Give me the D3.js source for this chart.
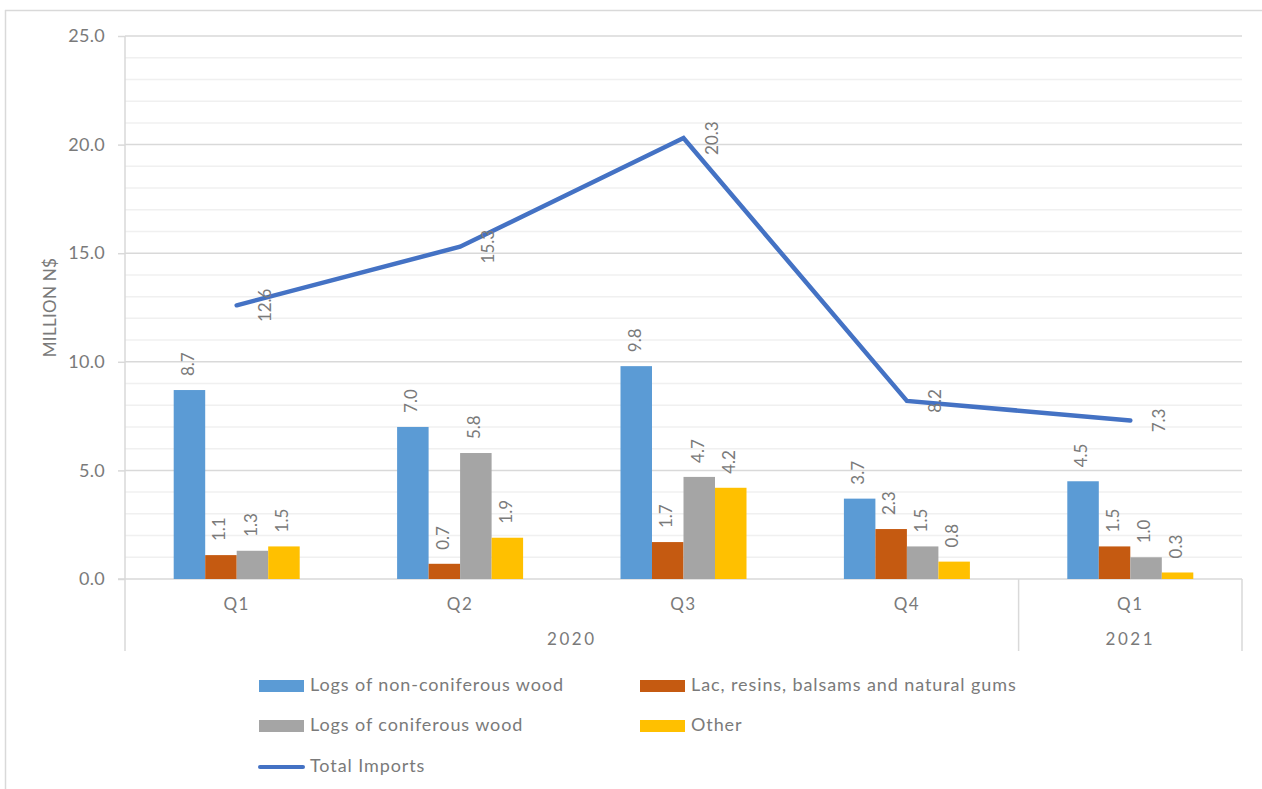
<!DOCTYPE html>
<html>
<head>
<meta charset="utf-8">
<script src="https://cdn.jsdelivr.net/npm/d3@7"></script>
<style>
  html, body { margin: 0; padding: 0; background: #fff; }
  svg { display: block; font-family: Lato, "Open Sans", sans-serif; }
</style>
</head>
<body>
<svg id="chart" width="1262" height="789"></svg>
<script>
// Quarterly imports, million N$
const quarters = ["Q1", "Q2", "Q3", "Q4", "Q1 "];
const years = [
  { label: "2020", from: 0, to: 3 },
  { label: "2021", from: 4, to: 4 }
];
const seriesNames = [
  "Logs of non-coniferous wood",
  "Lac, resins, balsams and natural gums",
  "Logs of coniferous wood",
  "Other"
];
const nonConiferous = [8.7, 7.0, 9.8, 3.7, 4.5];
const lacResins     = [1.1, 0.7, 1.7, 2.3, 1.5];
const coniferous    = [1.3, 5.8, 4.7, 1.5, 1.0];
const other         = [1.5, 1.9, 4.2, 0.8, 0.3];
const totalImports  = [12.6, 15.3, 20.3, 8.2, 7.3];
const totalName = "Total Imports";
const yTicks = [0, 5, 10, 15, 20, 25];
const yTitle = "MILLION N$";

const seriesValues = [nonConiferous, lacResins, coniferous, other];
const colors = ["#5B9BD5", "#C55A11", "#A5A5A5", "#FFC000"];
const lineColor = "#4472C4";
const textColor = "#7a7a7a";

const svg = d3.select("#chart");
const plot = { left: 125, right: 1242, top: 36, bottom: 579, axisBottom: 651 };

// chart frame
svg.append("line").attr("x1", 5.5).attr("x2", 5.5).attr("y1", 10).attr("y2", 789)
  .attr("stroke", "#d9d9d9").attr("stroke-width", 1.5);
svg.append("line").attr("x1", 5).attr("x2", 1262).attr("y1", 10.5).attr("y2", 10.5)
  .attr("stroke", "#d9d9d9").attr("stroke-width", 1.5);

const y = d3.scaleLinear().domain([0, 25]).range([plot.bottom, plot.top]);
const x = d3.scaleBand().domain(d3.range(quarters.length)).range([plot.left, plot.right]);
const xs = d3.scaleBand().domain(d3.range(seriesValues.length)).range([-63, 63]);

// minor gridlines
svg.append("g").selectAll("line")
  .data(d3.range(1, 25).filter(v => v % 5 !== 0))
  .join("line")
  .attr("x1", plot.left).attr("x2", plot.right)
  .attr("y1", d => y(d)).attr("y2", d => y(d))
  .attr("stroke", "#f0f0f0").attr("stroke-width", 1.5);

// major gridlines
svg.append("g").selectAll("line")
  .data(yTicks.filter(v => v > 0))
  .join("line")
  .attr("x1", plot.left).attr("x2", plot.right)
  .attr("y1", d => y(d)).attr("y2", d => y(d))
  .attr("stroke", "#d9d9d9").attr("stroke-width", 1.5);

// value axis
const yAxis = svg.append("g")
  .attr("transform", `translate(${plot.left},0)`)
  .call(d3.axisLeft(y).tickValues(yTicks).tickFormat(d3.format(".1f")).tickSize(7).tickPadding(13));
yAxis.select(".domain").remove();
yAxis.selectAll(".tick line").attr("stroke", "#d9d9d9").attr("stroke-width", 1.5);
yAxis.selectAll(".tick text").attr("fill", textColor).attr("font-size", 18)
  .attr("font-family", "Lato, sans-serif").attr("letter-spacing", 0.3);

svg.append("line").attr("x1", plot.left).attr("x2", plot.left)
  .attr("y1", plot.top).attr("y2", plot.axisBottom)
  .attr("stroke", "#d9d9d9").attr("stroke-width", 1.5);

// category axis baseline and year dividers
svg.append("line").attr("x1", plot.left - 7).attr("x2", plot.right)
  .attr("y1", plot.bottom).attr("y2", plot.bottom)
  .attr("stroke", "#d9d9d9").attr("stroke-width", 1.5);
svg.append("g").selectAll("line")
  .data([x(years[1].from), plot.right])
  .join("line")
  .attr("x1", d => d).attr("x2", d => d)
  .attr("y1", plot.bottom).attr("y2", plot.axisBottom)
  .attr("stroke", "#d9d9d9").attr("stroke-width", 1.5);

// y title
svg.append("text")
  .attr("transform", `translate(52,${(plot.top + plot.bottom) / 2}) rotate(-90)`)
  .attr("text-anchor", "middle").attr("dominant-baseline", "middle")
  .attr("fill", textColor).attr("font-size", 17).attr("letter-spacing", 0.3)
  .text(yTitle);

// bars
const groups = svg.append("g").selectAll("g")
  .data(quarters.map((q, i) => i))
  .join("g")
  .attr("transform", i => `translate(${x(i) + x.bandwidth() / 2},0)`);

groups.selectAll("rect")
  .data(i => seriesValues.map((vals, s) => ({ s, v: vals[i] })))
  .join("rect")
  .attr("x", d => xs(d.s))
  .attr("width", xs.bandwidth())
  .attr("y", d => y(d.v))
  .attr("height", d => y(0) - y(d.v))
  .attr("fill", d => colors[d.s]);

groups.selectAll("text")
  .data(i => seriesValues.map((vals, s) => ({ s, v: vals[i] })))
  .join("text")
  .attr("transform", d => `translate(${xs(d.s) + xs.bandwidth() / 2},${y(d.v) - 14}) rotate(-90)`)
  .attr("dominant-baseline", "middle")
  .attr("fill", textColor).attr("font-size", 17)
  .text(d => d.v.toFixed(1));

// total line
const cx = i => x(i) + x.bandwidth() / 2;
svg.append("path")
  .datum(totalImports)
  .attr("d", d3.line().x((d, i) => cx(i)).y(d => y(d)))
  .attr("fill", "none").attr("stroke", lineColor).attr("stroke-width", 4.5)
  .attr("stroke-linecap", "round").attr("stroke-linejoin", "miter");

svg.append("g").selectAll("text")
  .data(totalImports)
  .join("text")
  .attr("transform", (d, i) => `translate(${cx(i) + 30},${y(d)}) rotate(-90)`)
  .attr("text-anchor", "middle").attr("dominant-baseline", "middle")
  .attr("fill", textColor).attr("font-size", 17)
  .text(d => d.toFixed(1));

// category labels
svg.append("g").selectAll("text")
  .data(quarters)
  .join("text")
  .attr("x", (d, i) => cx(i)).attr("y", 606)
  .attr("text-anchor", "middle").attr("dominant-baseline", "middle")
  .attr("fill", textColor).attr("font-size", 17).attr("letter-spacing", 1.5)
  .text(d => d.trim());

svg.append("g").selectAll("text")
  .data(years)
  .join("text")
  .attr("x", d => (x(d.from) + x(d.to) + x.bandwidth()) / 2).attr("y", 641)
  .attr("text-anchor", "middle").attr("dominant-baseline", "middle")
  .attr("fill", textColor).attr("font-size", 17).attr("letter-spacing", 2.5)
  .text(d => d.label);

// legend
const legendItems = [
  { name: seriesNames[0], color: colors[0], x: 259, y: 686, type: "bar" },
  { name: seriesNames[1], color: colors[1], x: 640, y: 686, type: "bar" },
  { name: seriesNames[2], color: colors[2], x: 259, y: 726, type: "bar" },
  { name: seriesNames[3], color: colors[3], x: 640, y: 726, type: "bar" },
  { name: totalName, color: lineColor, x: 259, y: 767, type: "line" }
];
const lg = svg.append("g").selectAll("g").data(legendItems).join("g")
  .attr("transform", d => `translate(${d.x},${d.y})`);
lg.filter(d => d.type === "bar").append("rect")
  .attr("x", 0).attr("y", -6).attr("width", 45).attr("height", 12)
  .attr("fill", d => d.color);
lg.filter(d => d.type === "line").append("line")
  .attr("x1", 1).attr("x2", 44).attr("y1", 0).attr("y2", 0)
  .attr("stroke", d => d.color).attr("stroke-width", 4).attr("stroke-linecap", "round");
lg.append("text")
  .attr("x", 51).attr("y", 0).attr("dominant-baseline", "middle")
  .attr("fill", textColor).attr("font-size", 18).attr("letter-spacing", 0.9)
  .text(d => d.name);
</script>
</body>
</html>
